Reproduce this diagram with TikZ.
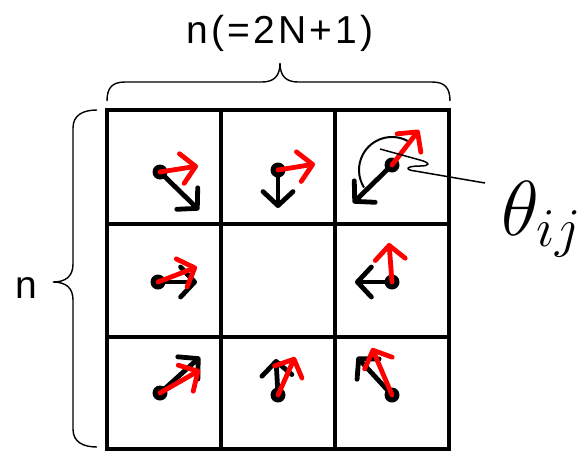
\RequirePackage{fix-cm}
\documentclass[tikz,border=0pt]{standalone}
\usepackage{fontspec}
\setmainfont{Liberation Sans}
\newfontfamily\lblfont[LetterSpace=8]{Liberation Sans}
\usetikzlibrary{arrows.meta}
\begin{document}
\begin{tikzpicture}[x=0.5pt,y=-0.5pt,
  gridline/.style={line width=2.2pt},
  spin/.style={line width=2.4pt, line cap=round, -{Straight Barb[length=7pt,width=15pt,round]}},
  oldspin/.style={spin, draw=black},
  newspin/.style={spin, draw=red},
  site/.style={circle, fill=black, inner sep=0pt, minimum size=7.5pt},
  bracestroke/.style={line width=0.7pt},
  pointer/.style={line width=0.75pt},
]
\useasboundingbox (0,0) rectangle (585,452);

% lattice of n x n cells
\draw[gridline] (107,110) rectangle (449,449);
\draw[gridline] (221,110) -- (221,449) (335,110) -- (335,449)
                (107,224) -- (449,224) (107,337) -- (449,337);

% lattice sites
\node[site] (d11) at (160,172) {};
\node[site] (d12) at (278,170) {};
\node[site] (d13) at (392,165) {};
\node[site] (d21) at (158,282) {};
\node[site] (d23) at (392,282) {};
\node[site] (d31) at (160,393) {};
\node[site] (d32) at (278,395) {};
\node[site] (d33) at (392,395) {};

% tips of the old (black) and new (red) spin directions
\coordinate (b11) at (199,210); \coordinate (r11) at (198,166);
\coordinate (b12) at (278,208); \coordinate (r12) at (315,164);
\coordinate (b13) at (353,203); \coordinate (r13) at (419,130);
\coordinate (b21) at (197,282); \coordinate (r21) at (197,267);
\coordinate (b23) at (355,282); \coordinate (r23) at (389,243);
\coordinate (b31) at (200,357); \coordinate (r31) at (200,370);
\coordinate (b32) at (276,359); \coordinate (r32) at (295,357);
\coordinate (b33) at (357,357); \coordinate (r33) at (372,348);

\foreach \s in {11,12,13,21,23,31,32,33}
  \draw[oldspin] (d\s.center) -- (b\s);
\foreach \s in {11,12,13,21,23,31,32,33}
  \draw[newspin] (d\s.center) -- (r\s);

% rotation angle between the two directions
\coordinate (arcc) at (392,170);
\draw[line width=1pt] ([shift={(-62:33)}]arcc) arc[start angle=-62, end angle=-212, radius=33];

% labels
\node[font=\lblfont\fontsize{19.5}{22}\selectfont, anchor=base] (top) at (280,43) {n(=2N+1)};
\node[font=\fontsize{19.5}{22}\selectfont, anchor=base] (side) at (26,298) {n};
\node[anchor=base west, inner sep=0pt] (theta) at (501,235) {\fontsize{39}{42}\selectfont$\theta_{ij}$};

% pointer from the angle to its label
\coordinate (pstart) at (380,149);
\coordinate (pend) at (485,183);
\draw[pointer] (pstart) -- (420,160) .. controls (431,163) and (430,166) .. (420,166)
  .. controls (405,166) and (405,170) .. (415,171) -- (pend);

% braces
\draw[bracestroke] (107,101) .. controls (107,88) and (112,82) .. (125,82) -- (262,82)
  .. controls (274,82) and (280,76) .. (280,63)
  .. controls (280,76) and (286,82) .. (298,82) -- (432,82)
  .. controls (445,82) and (450,88) .. (450,101);
\draw[bracestroke] (97,110) .. controls (83,110) and (73,115) .. (73,128) -- (73,264)
  .. controls (73,276) and (66,282) .. (53,282)
  .. controls (66,282) and (73,288) .. (73,300) -- (73,429)
  .. controls (73,442) and (83,447) .. (97,447);
\end{tikzpicture}
\end{document}
